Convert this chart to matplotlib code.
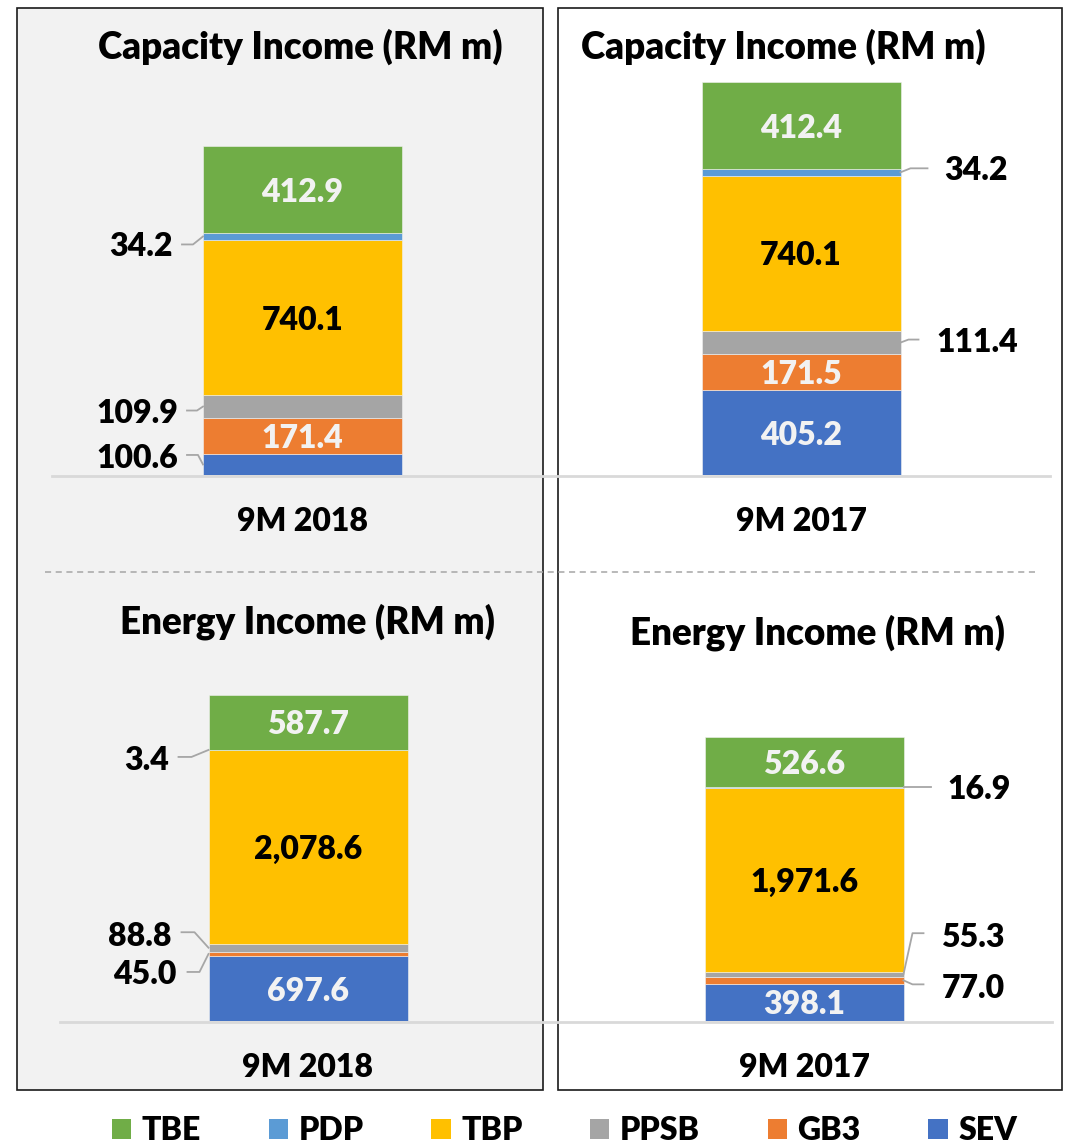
import matplotlib
matplotlib.use("Agg")
import matplotlib.pyplot as plt
from matplotlib.patches import Rectangle, Patch
from matplotlib.lines import Line2D
from matplotlib.transforms import IdentityTransform

# ---------------- data ----------------
series = ["SEV", "GB3", "PPSB", "TBP", "PDP", "TBE"]          # bottom -> top
legend_order = ["TBE", "PDP", "TBP", "PPSB", "GB3", "SEV"]
colors = {"TBE": "#70ad47", "PDP": "#5b9bd5", "TBP": "#ffc000",
          "PPSB": "#a5a5a5", "GB3": "#ed7d31", "SEV": "#4472c4"}

capacity_9m2018 = [100.6, 171.4, 109.9, 740.1, 34.2, 412.9]
capacity_9m2017 = [405.2, 171.5, 111.4, 740.1, 34.2, 412.4]
energy_9m2018 = [697.6, 45.0, 88.8, 2078.6, 3.4, 587.7]
energy_9m2017 = [398.1, 77.0, 55.3, 1971.6, 16.9, 526.6]

cat_2018 = "9M 2018"
cat_2017 = "9M 2017"
title_cap = "Capacity Income (RM m)"
title_en = "Energy Income (RM m)"

# ---------------- layout ----------------
W, H, DPI = 1067, 1147, 100
FONT = ["Lato", "DejaVu Sans"]
WEIGHT = "heavy"
plt.rcParams["font.family"] = FONT
plt.rcParams["font.weight"] = WEIGHT

fig = plt.figure(figsize=(W / DPI, H / DPI), dpi=DPI)
fig.patch.set_facecolor("white")


def fx(x):
    return x / W


def fy(y):
    return 1 - y / H


# panel boxes
fig.add_artist(Rectangle((fx(17), fy(1090)), fx(543 - 17), (1090 - 8) / H,
                         transform=fig.transFigure, facecolor="#f2f2f2",
                         edgecolor="#1a1a1a", lw=1.2, zorder=-2))
fig.add_artist(Rectangle((fx(558), fy(1090)), fx(1062 - 558), (1090 - 8) / H,
                         transform=fig.transFigure, facecolor="white",
                         edgecolor="#1a1a1a", lw=1.2, zorder=-2))
# dashed divider
fig.add_artist(Line2D([fx(45), fx(1035)], [fy(572), fy(572)],
                      transform=fig.transFigure, color="#a6a6a6", lw=1.1,
                      ls=(0, (4, 3)), zorder=-1))
# category axis lines
fig.add_artist(Line2D([fx(52), fx(1050)], [fy(475.5), fy(475.5)],
                      transform=fig.transFigure, color="#d9d9d9", lw=2, zorder=3))
fig.add_artist(Line2D([fx(60), fx(1052)], [fy(1021.5), fy(1021.5)],
                      transform=fig.transFigure, color="#d9d9d9", lw=2, zorder=3))

LABEL_FS = 23
TITLE_FS = 26.5
BAR_PX = 199
AX_W = 400

charts = [
    dict(vals=capacity_9m2018, cat=cat_2018, title=title_cap, cx=302.5, base=475, top=75,
         ymax=1910, title_xy=(300, 47),
         outside={4: (-1, (-10, 8), (-21, 8), (-30, 8)),
                  2: (-1, (-6, 4), (-16, 4), (-25, 4)),
                  0: (-1, (-5, -9.5), (-16, -9.5), (-25, -8))}),
    dict(vals=capacity_9m2017, cat=cat_2017, title=title_cap, cx=801, base=475, top=75,
         ymax=1910, title_xy=(783, 47),
         outside={4: (1, (10, -4), (27, -4), (44, -4)),
                  2: (1, (8, -3), (18, -3), (36, -3))}),
    dict(vals=energy_9m2018, cat=cat_2018, title=title_en, cx=308, base=1021, top=680,
         ymax=3663, title_xy=(308, 622),
         outside={4: (-1, (-17, 7), (-30, 7), (-39, 8)),
                  2: (-1, (-14, -15.5), (-27, -15.5), (-37, -14)),
                  1: (-1, (-9, 18), (-21, 18), (-32, 18))}),
    dict(vals=energy_9m2017, cat=cat_2017, title=title_en, cx=804, base=1021, top=680,
         ymax=3663, title_xy=(818, 633),
         outside={4: (1, (0, 0), (27, 0), (44, 0)),
                  2: (1, (9, -41), (20, -41), (38, -39)),
                  1: (1, (9, 4), (20, 4), (38, 6))}),
]

inside_text_color = {"TBE": "#f2f2f2", "SEV": "#f2f2f2", "GB3": "#f2f2f2",
                     "TBP": "black", "PPSB": "black", "PDP": "black"}

for ch in charts:
    x0 = ch["cx"] - AX_W / 2
    ax = fig.add_axes([fx(x0), fy(ch["base"]), AX_W / W, (ch["base"] - ch["top"]) / H])
    ax.set_facecolor("none")
    for s in ax.spines.values():
        s.set_visible(False)
    ax.set_xlim(-0.5, 0.5)
    ax.set_ylim(0, ch["ymax"])
    ax.set_yticks([])
    width = BAR_PX / AX_W
    bottom = 0.0
    segs = []
    for name, v in zip(series, ch["vals"]):
        ax.bar([0], [v], width=width, bottom=bottom, color=colors[name],
               edgecolor="#f2f2f2", linewidth=0.4, zorder=2)
        segs.append((name, v, bottom))
        bottom += v
    ax.set_xticks([0], [ch["cat"]])
    ax.tick_params(axis="x", length=0, pad=23, labelsize=LABEL_FS)
    for t in ax.get_xticklabels():
        t.set_fontweight(WEIGHT)

    fig.canvas.draw()
    for i, (name, v, b) in enumerate(segs):
        label = f"{v:,.1f}"
        if i in ch["outside"]:
            side, elbow, end, txt = ch["outside"][i]
            ax_x, ax_y = ax.transData.transform((side * width / 2, b + v / 2))

            def p(o):
                return (ax_x + o[0], ax_y - o[1])
            pts = [(ax_x, ax_y), p(elbow), p(end)]
            fig.add_artist(Line2D([q[0] for q in pts], [q[1] for q in pts],
                                  transform=IdentityTransform(), color="#a6a6a6",
                                  lw=1.3, zorder=4))
            tx, ty = p(txt)
            fig.text(tx / W, ty / H, label, ha="right" if side < 0 else "left",
                     va="center_baseline", fontsize=LABEL_FS, fontweight=WEIGHT,
                     color="black")
        else:
            ax.text(0, b + v / 2, label, ha="center", va="center_baseline",
                    fontsize=LABEL_FS, fontweight=WEIGHT,
                    color=inside_text_color[name], zorder=5)

    tx, ty = ch["title_xy"]
    fig.text(fx(tx), fy(ty), ch["title"], ha="center", va="center",
             fontsize=TITLE_FS, fontweight=WEIGHT, color="black")

handles = [Patch(facecolor=colors[n], edgecolor="none", label=n) for n in legend_order]
leg = fig.legend(handles=handles, ncol=6, loc="center",
                 bbox_to_anchor=(fx(564.5), fy(1131)), frameon=False,
                 fontsize=LABEL_FS, handlelength=0.6, handleheight=0.6,
                 handletextpad=0.33, columnspacing=2.12, borderaxespad=0, borderpad=0)
for t in leg.get_texts():
    t.set_fontweight(WEIGHT)

fig.savefig("out.png", dpi=DPI, facecolor="white")
